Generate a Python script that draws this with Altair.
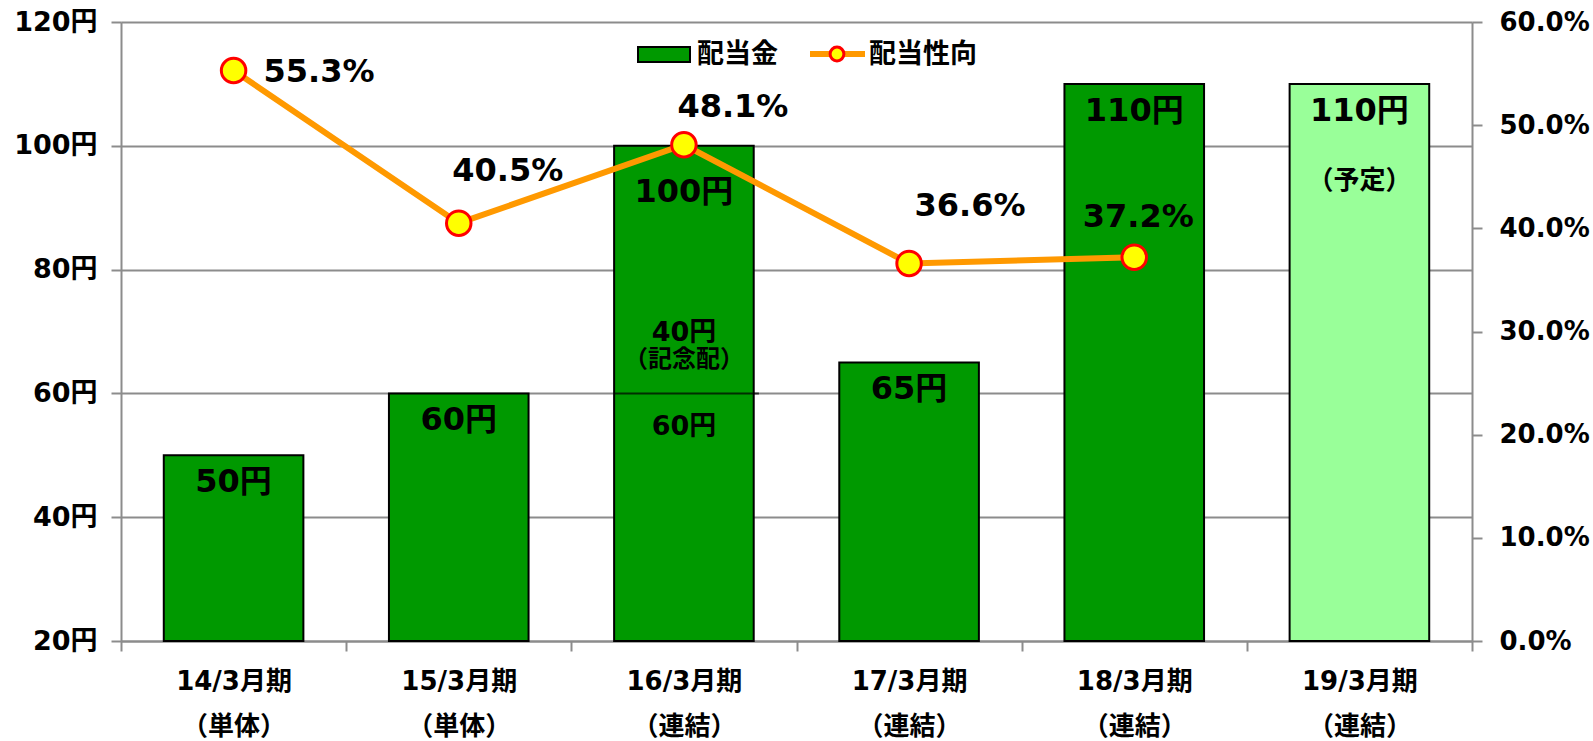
import altair as alt
import pandas as pd

# ---------------- data ----------------
periods = ["14/3月期", "15/3月期", "16/3月期", "17/3月期", "18/3月期", "19/3月期"]
scopes = ["（単体）", "（単体）", "（連結）", "（連結）", "（連結）", "（連結）"]
dividends = [50, 60, 100, 65, 110, 110]
status = ["実績", "実績", "実績", "実績", "実績", "予定"]
payout = [55.3, 40.5, 48.1, 36.6, 37.2]          # 14/3 .. 18/3
ordinary_16 = 60                                  # 16/3: ordinary part
commemorative_16 = 40                             # 16/3: commemorative part
y_left_ticks = [20, 40, 60, 80, 100, 120]
y_right_ticks = [0, 10, 20, 30, 40, 50, 60]

cats = [p + "|" + s for p, s in zip(periods, scopes)]
bars = pd.DataFrame({
    "cat": cats,
    "div": dividends,
    "status": status,
    "label": [f"{d}円" for d in dividends],
})
line = pd.DataFrame({
    "cat": cats[:len(payout)],
    "pct": payout,
    "label": [f"{v:.1f}%" for v in payout],
})
memo = pd.DataFrame({
    "cat": [cats[2]],
    "div": [ordinary_16],
    "l_comm": [f"{commemorative_16}円"],
    "l_note": ["（記念配）"],
    "l_ord": [f"{ordinary_16}円"],
})
plan = pd.DataFrame({"cat": [cats[5]], "div": [dividends[5]], "note": ["（予定）"]})
one = pd.DataFrame({"k": [0]})

FONT = "DejaVu Sans, Noto Sans CJK JP"
GRAY = "#8c8c8c"
GREEN = "#009900"
LIGHT = "#99ff99"
ORANGE = "#ff9900"
W, H = 1351, 619

x_enc = alt.X(
    "cat:N", sort=cats,
    scale=alt.Scale(paddingInner=0, paddingOuter=0),
    axis=alt.Axis(
        title=None, labelAngle=0, tickBand="extent",
        labelExpr="split(datum.label, '|')", labelLineHeight=45,
        labelFontSize=26, labelFontWeight="bold", labelColor="black", labelFont=FONT,
        labelPadding=17, tickSize=10, tickColor=GRAY, tickWidth=2,
        domainColor=GRAY, domainWidth=2, grid=False,
    ),
)
x_plain = alt.X("cat:N", sort=cats)

y_div = alt.Y(
    "div:Q",
    scale=alt.Scale(domain=[20, 120], zero=False, nice=False),
    axis=alt.Axis(
        title=None, values=y_left_ticks, labelExpr="datum.value + '円'",
        labelFontSize=27, labelFontWeight="bold", labelColor="black", labelFont=FONT,
        labelPadding=14, tickSize=10, tickColor=GRAY, tickWidth=2,
        domainColor=GRAY, domainWidth=2,
        grid=True, gridColor=GRAY, gridWidth=2,
    ),
)
y_div_noaxis = alt.Y("div:Q")

bar_layer = alt.Chart(bars).mark_bar(
    stroke="black", strokeWidth=2, width=alt.RelativeBandSize(0.62)
).encode(
    x=x_enc,
    y=y_div,
    y2=alt.datum(20),
    fill=alt.Fill("status:N", scale=alt.Scale(domain=["実績", "予定"], range=[GREEN, LIGHT]), legend=None),
)

memo_rule = alt.Chart(memo).mark_tick(color="black", thickness=2, size=144, xOffset=3).encode(
    x=x_plain, y=y_div_noaxis
)

txt = dict(font=FONT, fontWeight="bold", color="black", baseline="middle", align="center")

bar_labels = alt.Chart(bars).transform_filter(
    alt.datum.cat != cats[2]
).mark_text(fontSize=32, dy=27, **txt).encode(
    x=x_plain, y=y_div_noaxis, text="label:N"
)
bar16_label = alt.Chart(bars).transform_filter(
    alt.datum.cat == cats[2]
).mark_text(fontSize=32, dy=46, **txt).encode(
    x=x_plain, y=y_div_noaxis, text="label:N"
)
memo_comm = alt.Chart(memo).mark_text(fontSize=27, dy=-60, **txt).encode(
    x=x_plain, y=y_div_noaxis, text="l_comm:N"
)
memo_note = alt.Chart(memo).mark_text(fontSize=24, dy=-33, **txt).encode(
    x=x_plain, y=y_div_noaxis, text="l_note:N"
)
memo_ord = alt.Chart(memo).mark_text(fontSize=27, dy=34, **txt).encode(
    x=x_plain, y=y_div_noaxis, text="l_ord:N"
)
plan_note = alt.Chart(plan).mark_text(fontSize=26, dy=97, **txt).encode(
    x=x_plain, y=y_div_noaxis, text="note:N"
)

# legend (drawn by hand to match the combined line+marker symbol)
leg_rect = alt.Chart(one).mark_rect(fill=GREEN, stroke="black", strokeWidth=2).encode(
    x=alt.value(517), x2=alt.value(569), y=alt.value(25), y2=alt.value(40)
)
leg_t1 = alt.Chart(one).mark_text(font=FONT, fontWeight="bold", fontSize=27, align="left",
                                  baseline="middle", color="black").encode(
    x=alt.value(576), y=alt.value(33), text=alt.value("配当金")
)
leg_line = alt.Chart(one).mark_rule(color=ORANGE, strokeWidth=6).encode(
    x=alt.value(689), x2=alt.value(744), y=alt.value(32)
)
leg_pt = alt.Chart(one).mark_circle(color="#ffff00", stroke="#ff0000", strokeWidth=3,
                                    size=190, opacity=1).encode(
    x=alt.value(716), y=alt.value(32)
)
leg_t2 = alt.Chart(one).mark_text(font=FONT, fontWeight="bold", fontSize=27, align="left",
                                  baseline="middle", color="black").encode(
    x=alt.value(748), y=alt.value(33), text=alt.value("配当性向")
)

left = alt.layer(bar_layer, memo_rule, bar_labels, bar16_label, memo_comm, memo_note,
                 memo_ord, plan_note, leg_rect, leg_t1, leg_line, leg_pt, leg_t2)

y_pct = alt.Y(
    "pct:Q",
    scale=alt.Scale(domain=[0, 60], nice=False),
    axis=alt.Axis(
        title=None, orient="right", values=y_right_ticks,
        labelExpr="format(datum.value, '.1f') + '%'",
        labelFontSize=26, labelFontWeight="bold", labelColor="black", labelFont=FONT,
        labelPadding=17, tickSize=10, tickColor=GRAY, tickWidth=2,
        domainColor=GRAY, domainWidth=2, grid=False,
    ),
)
y_pct_noaxis = alt.Y("pct:Q")

line_layer = alt.Chart(line).mark_line(color=ORANGE, strokeWidth=6).encode(
    x=x_plain, y=y_pct
)
pt_layer = alt.Chart(line).mark_circle(color="#ffff00", stroke="#ff0000", strokeWidth=3,
                                       size=600, opacity=1).encode(
    x=x_plain, y=y_pct_noaxis
)

pct_offsets = [(30, 2, "left"), (49, -52, "center"), (49, -38, "center"),
               (61, -57, "center"), (4, -40, "center")]
pct_labels = []
for c, (dx, dy, al) in zip(line["cat"], pct_offsets):
    pct_labels.append(
        alt.Chart(line).transform_filter(alt.datum.cat == c).mark_text(
            font=FONT, fontWeight="bold", fontSize=32, color="black",
            baseline="middle", align=al, dx=dx, dy=dy
        ).encode(x=x_plain, y=y_pct_noaxis, text="label:N")
    )

right = alt.layer(line_layer, pt_layer, *pct_labels)

chart = alt.layer(left, right).resolve_scale(y="independent").properties(
    width=W, height=H,
    autosize=alt.AutoSizeParams(type="none"),
    padding={"left": 121, "top": 22, "right": 121, "bottom": 100},
).configure_view(stroke=None).configure(font=FONT, background="white")

chart.save("out.html", embed_options={"renderer": "svg", "actions": False})
